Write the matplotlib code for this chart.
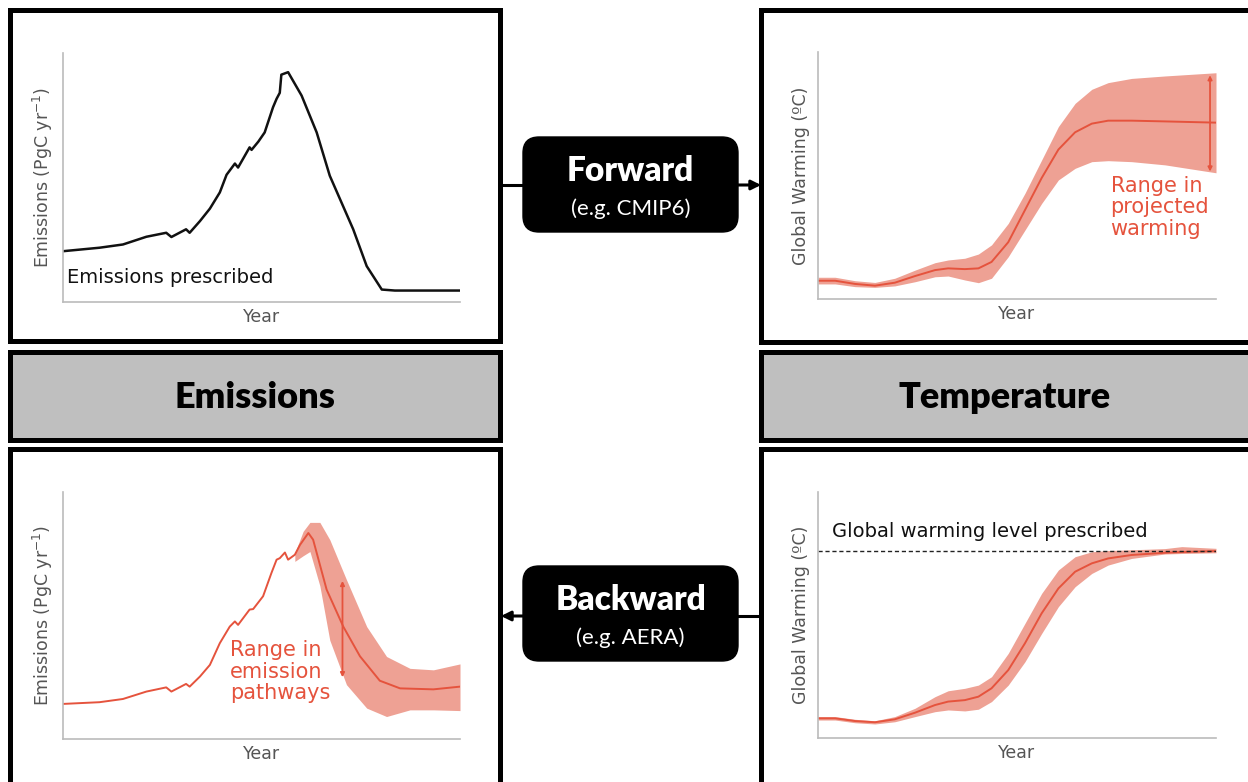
import matplotlib.pyplot as plt
from matplotlib.patches import Rectangle, FancyBboxPatch

# --- data (x: 0-100 along the time axis, y: 0-1 of the axis height) ---
emis_x = [0, 9.2, 15.1, 21, 26, 27.3, 31, 31.9, 34.5, 37, 39.5, 41.2, 43.3, 44.1, 47, 47.5,
          49.2, 50.8, 52.9, 53.8, 54.6, 55, 56.7, 60.1, 63.9, 67.2, 73.1, 76.5, 80.3, 83.6, 100]
emis_y = [0.204, 0.218, 0.231, 0.262, 0.278, 0.261, 0.292, 0.278, 0.325, 0.375, 0.44, 0.511, 0.556,
          0.54, 0.621, 0.611, 0.644, 0.681, 0.782, 0.816, 0.84, 0.913, 0.923, 0.829, 0.681, 0.507,
          0.292, 0.144, 0.05, 0.046, 0.046]

fwd_x = [0, 4.3, 9.3, 14.3, 19.3, 24.4, 29.4, 32.7, 36.9, 40.3, 43.6, 47.8, 52, 56.2, 60.4,
         64.6, 68.8, 72.9, 78.8, 87.2, 100]
fwd_mid = [0.074, 0.074, 0.061, 0.054, 0.066, 0.093, 0.117, 0.124, 0.121, 0.124, 0.150, 0.230,
           0.360, 0.490, 0.605, 0.675, 0.710, 0.722, 0.722, 0.719, 0.714]
fwd_hi = [0.088, 0.088, 0.074, 0.067, 0.084, 0.117, 0.147, 0.158, 0.165, 0.182, 0.219, 0.306,
          0.428, 0.563, 0.698, 0.792, 0.849, 0.876, 0.893, 0.903, 0.916]
fwd_lo = [0.061, 0.061, 0.050, 0.047, 0.053, 0.070, 0.090, 0.093, 0.077, 0.066, 0.084, 0.171,
          0.279, 0.387, 0.482, 0.529, 0.556, 0.560, 0.556, 0.543, 0.511]

bwd_x = [0, 9.2, 15.1, 21, 26, 27.3, 31, 31.9, 34.5, 37, 39.5, 42, 43.3, 44.1, 47, 47.9, 50.4,
         52.5, 53.8, 54.6, 55.9, 56.7, 58.4, 59.7, 61.8, 63, 66.4, 70.6, 74.8, 79.8, 84.9, 93.3, 100]
bwd_y = [0.142, 0.149, 0.162, 0.192, 0.209, 0.192, 0.223, 0.212, 0.253, 0.300, 0.388, 0.455,
         0.476, 0.462, 0.524, 0.526, 0.578, 0.672, 0.726, 0.732, 0.755, 0.726, 0.746, 0.786,
         0.834, 0.807, 0.605, 0.455, 0.335, 0.236, 0.205, 0.201, 0.212]
band_x = [58.4, 60.5, 62.2, 64.7, 67.2, 71.4, 76.5, 81.5, 87.4, 93.3, 100]
band_hi = [0.753, 0.841, 0.877, 0.877, 0.807, 0.645, 0.455, 0.334, 0.286, 0.280, 0.304]
band_lo = [0.719, 0.742, 0.759, 0.62, 0.40, 0.22, 0.125, 0.091, 0.118, 0.118, 0.115]

gwl_x = [0, 4.3, 9.3, 14.3, 19.3, 24.4, 29.4, 32.7, 36.9, 40.3, 43.6, 47.8, 52, 56.2, 60.4,
         64.6, 68.8, 72.9, 78.8, 87.2, 91.4, 100]
gwl_mid = [0.080, 0.080, 0.069, 0.064, 0.076, 0.103, 0.134, 0.148, 0.154, 0.168, 0.202, 0.276,
           0.385, 0.507, 0.608, 0.676, 0.710, 0.730, 0.744, 0.753, 0.756, 0.760]
gwl_hi = [0.087, 0.087, 0.076, 0.070, 0.087, 0.121, 0.168, 0.192, 0.202, 0.215, 0.249, 0.344,
          0.466, 0.588, 0.683, 0.737, 0.757, 0.762, 0.765, 0.770, 0.778, 0.771]
gwl_lo = [0.073, 0.073, 0.062, 0.057, 0.066, 0.087, 0.107, 0.114, 0.110, 0.117, 0.148, 0.215,
          0.310, 0.425, 0.534, 0.615, 0.669, 0.703, 0.730, 0.748, 0.750, 0.753]
gwl_level = 0.760

RED = '#e5533d'
FILL = '#eea194'
GREY = '#555555'

fig = plt.figure(figsize=(12.48, 7.82), dpi=100)

# background canvas in pixel units
bg = fig.add_axes([0, 0, 1, 1])
bg.set_xlim(0, 1248)
bg.set_ylim(782, 0)
bg.axis('off')

for x0, y0, x1, y1 in [(9.5, 9.5, 500, 341), (761, 9.5, 1262, 342),
                       (9.5, 449, 500, 795), (761, 449, 1262, 795)]:
    bg.add_patch(Rectangle((x0, y0), x1 - x0, y1 - y0, fc='white', ec='black', lw=3.6))
for x0, x1 in [(9.5, 500), (761, 1262)]:
    bg.add_patch(Rectangle((x0, 352), x1 - x0, 87.5, fc='#bfbfbf', ec='black', lw=3.6))

bg.text(255, 398, 'Emissions', ha='center', va='center', fontsize=26,
        fontweight='heavy', family='Lato')
bg.text(1005, 398, 'Temperature', ha='center', va='center', fontsize=26,
        fontweight='heavy', family='Lato')

# connector arrows
bg.plot([500, 524], [185, 185], color='black', lw=2.2)
bg.annotate('', xy=(761, 185), xytext=(737, 185),
            arrowprops=dict(arrowstyle='-|>', color='black', lw=2.2, mutation_scale=14,
                            shrinkA=0, shrinkB=0))
bg.plot([737, 761], [616, 616], color='black', lw=2.2)
bg.annotate('', xy=(501, 616), xytext=(524, 616),
            arrowprops=dict(arrowstyle='-|>', color='black', lw=2.2, mutation_scale=14,
                            shrinkA=0, shrinkB=0))

for y0, title, sub in [(137, 'Forward', '(e.g. CMIP6)'), (566, 'Backward', '(e.g. AERA)')]:
    bg.add_patch(FancyBboxPatch((523, y0), 215, 95, boxstyle='round,pad=0,rounding_size=16',
                                fc='black', ec='black'))
    bg.text(630.5, y0 + 34, title, ha='center', va='center', color='white', fontsize=24,
            fontweight='heavy', family='Lato')
    bg.text(630.5, y0 + 72, sub, ha='center', va='center', color='white', fontsize=16,
            family='Lato')


def panel(px0, py0, px1, py1, ylabel):
    ax = fig.add_axes([px0 / 1248, 1 - py1 / 782, (px1 - px0) / 1248, (py1 - py0) / 782])
    ax.set_facecolor('none')
    ax.set_xlim(0, 100)
    ax.set_ylim(0, 1)
    ax.set_xticks([])
    ax.set_yticks([])
    for s in ['top', 'right']:
        ax.spines[s].set_visible(False)
    for s in ['left', 'bottom']:
        ax.spines[s].set_color('#bbbbbb')
        ax.spines[s].set_linewidth(1.2)
    ax.set_xlabel('Year', color=GREY, fontsize=12.5, labelpad=4)
    ax.set_ylabel(ylabel, color=GREY, fontsize=12.5, labelpad=6)
    return ax


# top-left: emissions prescribed
ax1 = panel(63, 53, 460, 302, 'Emissions (PgC yr$^{-1}$)')
ax1.plot(emis_x, emis_y, color='#111111', lw=1.8)
ax1.text(1, 0.1, 'Emissions prescribed', fontsize=14, va='center', color='#111111')

# top-right: forward warming range
ax2 = panel(818, 52, 1216, 299, 'Global Warming (ºC)')
ax2.fill_between(fwd_x, fwd_lo, fwd_hi, color=FILL, lw=0)
ax2.plot(fwd_x, fwd_mid, color=RED, lw=1.4)
ax2.annotate('', xy=(98.5, fwd_hi[-1] - 0.01), xytext=(98.5, fwd_lo[-1] + 0.005),
             arrowprops=dict(arrowstyle='<|-|>', color=RED, lw=1.3, mutation_scale=6,
                             shrinkA=0, shrinkB=0))
ax2.text(73.5, 0.5, 'Range in\nprojected\nwarming', color=RED, fontsize=15, va='top',
         linespacing=1.1)

# bottom-left: backward emission range
ax3 = panel(63, 492, 460, 739, 'Emissions (PgC yr$^{-1}$)')
ax3.fill_between(band_x, band_lo, band_hi, color=FILL, lw=0)
ax3.plot(bwd_x, bwd_y, color=RED, lw=1.4)
ax3.annotate('', xy=(70.4, 0.64), xytext=(70.4, 0.25),
             arrowprops=dict(arrowstyle='<|-|>', color=RED, lw=1.3, mutation_scale=6,
                             shrinkA=0, shrinkB=0))
ax3.text(42, 0.4, 'Range in\nemission\npathways', color=RED, fontsize=15, va='top',
         linespacing=1.1)

# bottom-right: warming level prescribed
ax4 = panel(818, 492, 1216, 738, 'Global Warming (ºC)')
ax4.fill_between(gwl_x, gwl_lo, gwl_hi, color=FILL, lw=0)
ax4.plot(gwl_x, gwl_mid, color=RED, lw=1.4)
ax4.axhline(gwl_level, color='#222222', lw=1.0, ls=(0, (3, 2)))
ax4.text(3.5, 0.8, 'Global warming level prescribed', fontsize=14, va='bottom', color='#111111')

fig.savefig('out.png', dpi=100)
